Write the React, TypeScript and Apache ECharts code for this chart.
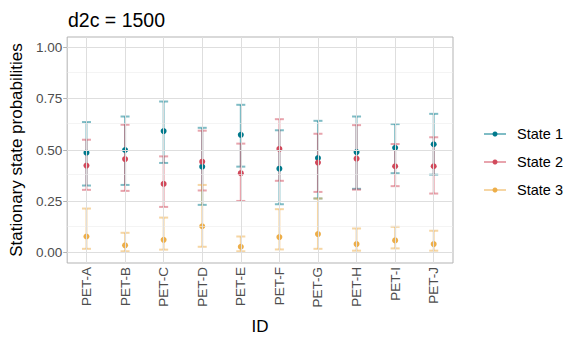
import React, { useEffect, useRef } from "react";
import * as echarts from "echarts";

const categories = ["PET-A", "PET-B", "PET-C", "PET-D", "PET-E", "PET-F", "PET-G", "PET-H", "PET-I", "PET-J"];
const stateNames = ["State 1", "State 2", "State 3"];
const stateColors = ["#00798c", "#d1495b", "#edae49"];

const s1Mean = [0.487, 0.500, 0.592, 0.419, 0.574, 0.409, 0.461, 0.490, 0.511, 0.528];
const s1Low = [0.327, 0.330, 0.437, 0.233, 0.419, 0.236, 0.264, 0.311, 0.387, 0.380];
const s1High = [0.636, 0.663, 0.736, 0.608, 0.720, 0.596, 0.642, 0.663, 0.626, 0.676];

const s2Mean = [0.424, 0.456, 0.335, 0.443, 0.387, 0.505, 0.439, 0.458, 0.421, 0.421];
const s2Low = [0.306, 0.301, 0.223, 0.303, 0.252, 0.350, 0.296, 0.307, 0.324, 0.288];
const s2High = [0.550, 0.623, 0.469, 0.594, 0.531, 0.650, 0.579, 0.621, 0.529, 0.562];

const s3Mean = [0.079, 0.036, 0.063, 0.129, 0.029, 0.076, 0.091, 0.042, 0.060, 0.042];
const s3Low = [0.019, 0.007, 0.015, 0.029, 0.007, 0.016, 0.019, 0.010, 0.021, 0.010];
const s3High = [0.215, 0.097, 0.171, 0.330, 0.079, 0.212, 0.264, 0.118, 0.126, 0.107];

const yMajor = [0, 0.25, 0.5, 0.75, 1];
const yMinor = [0.125, 0.375, 0.625, 0.875];

const FONT = "'Liberation Sans', Arial, Helvetica, sans-serif";

export default function App() {
  const ref = useRef<HTMLDivElement>(null);
  useEffect(() => {
    if (!ref.current) return;
    const chart = echarts.init(ref.current, null, { renderer: "svg" });
    const means = [s1Mean, s2Mean, s3Mean];
    const lows = [s1Low, s2Low, s3Low];
    const highs = [s1High, s2High, s3High];

    const errorSeries = stateNames.map((name, k) => ({
      type: "custom",
      name: name + " err",
      z: 3,
      encode: { x: 0, y: [1, 2] },
      data: categories.map((_, i) => [i, lows[k][i], highs[k][i]]),
      renderItem: (params: any, api: any) => {
        const top = api.coord([api.value(0), api.value(2)]);
        const bot = api.coord([api.value(0), api.value(1)]);
        const x = top[0];
        const hw = 4.5;
        const style = { stroke: stateColors[k], lineWidth: 2, opacity: 0.5 };
        return {
          type: "group",
          children: [
            { type: "line", shape: { x1: x, y1: top[1], x2: x, y2: bot[1] }, style },
            { type: "line", shape: { x1: x - hw, y1: top[1], x2: x + hw, y2: top[1] }, style },
            { type: "line", shape: { x1: x - hw, y1: bot[1], x2: x + hw, y2: bot[1] }, style },
          ],
        };
      },
    }));

    const pointSeries = stateNames.map((name, k) => ({
      type: "scatter",
      name,
      z: 4,
      symbol: "circle",
      symbolSize: 6,
      itemStyle: { color: stateColors[k], opacity: 1 },
      data: categories.map((_, i) => [i, means[k][i]]),
    }));

    const gridSeries = {
      type: "scatter",
      name: "grid",
      z: 1,
      data: [],
      silent: true,
      markLine: {
        silent: true,
        symbol: "none",
        animation: false,
        label: { show: false },
        data: [
          ...yMajor.map((v) => ({ yAxis: v, lineStyle: { color: "#dedede", width: 1, type: "solid" } })),
          ...yMinor.map((v) => ({ yAxis: v, lineStyle: { color: "#ececec", width: 0.6, type: "solid" } })),
          ...categories.map((_, i) => ({ xAxis: i, lineStyle: { color: "#dedede", width: 1, type: "solid" } })),
        ],
      },
    };

    const legendY = [134, 162, 190];
    const legendGraphics: any[] = [];
    stateNames.forEach((name, k) => {
      legendGraphics.push({
        type: "line",
        shape: { x1: 484, y1: legendY[k], x2: 506, y2: legendY[k] },
        style: { stroke: stateColors[k], lineWidth: 2, opacity: 0.5 },
      });
      legendGraphics.push({
        type: "circle",
        shape: { cx: 495, cy: legendY[k], r: 2.5 },
        style: { fill: stateColors[k] },
      });
      legendGraphics.push({
        type: "text",
        x: 517,
        y: legendY[k],
        style: { text: name, fill: "#000", font: `14.5px ${FONT}`, verticalAlign: "middle", align: "left" },
      });
    });

    chart.setOption({
      animation: false,
      backgroundColor: "#fff",
      textStyle: { fontFamily: FONT },
      title: {
        text: "d2c = 1500",
        left: 63,
        top: 5,
        textStyle: { fontSize: 19.5, fontWeight: "normal", color: "#000", fontFamily: FONT },
      },
      grid: {
        left: 66,
        right: 128,
        top: 37,
        bottom: 86,
        show: true,
        borderColor: "#b3b3b3",
        borderWidth: 1,
        backgroundColor: "transparent",
        containLabel: false,
      },
      xAxis: {
        type: "category",
        data: categories,
        boundaryGap: true,
        name: "ID",
        nameLocation: "middle",
        nameGap: 55,
        nameTextStyle: { fontSize: 17, color: "#000", fontFamily: FONT },
        axisLine: { show: false },
        axisTick: { show: true, alignWithLabel: true, length: 4, lineStyle: { color: "#b3b3b3" } },
        axisLabel: { rotate: 90, color: "#4d4d4d", fontSize: 13.5, margin: 4, fontFamily: FONT },
        splitLine: { show: false },
      },
      yAxis: {
        type: "value",
        min: -0.05,
        max: 1.05,
        name: "Stationary state probabilities",
        nameLocation: "middle",
        nameRotate: 90,
        nameGap: 41,
        nameTextStyle: { fontSize: 17, color: "#000", fontFamily: FONT },
        axisLine: { show: false },
        axisTick: { show: true, length: 4, customValues: yMajor, lineStyle: { color: "#b3b3b3" } },
        axisLabel: {
          customValues: yMajor,
          color: "#4d4d4d",
          fontSize: 13.5,
          margin: 5,
          fontFamily: FONT,
          formatter: (v: number) => v.toFixed(2),
        },
        splitLine: { show: false },
      },
      graphic: legendGraphics,
      series: [gridSeries, ...errorSeries, ...pointSeries],
    });
    return () => chart.dispose();
  }, []);
  return <div ref={ref} style={{ width: 581, height: 349, position: "absolute", left: 0, top: 0 }} />;
}
